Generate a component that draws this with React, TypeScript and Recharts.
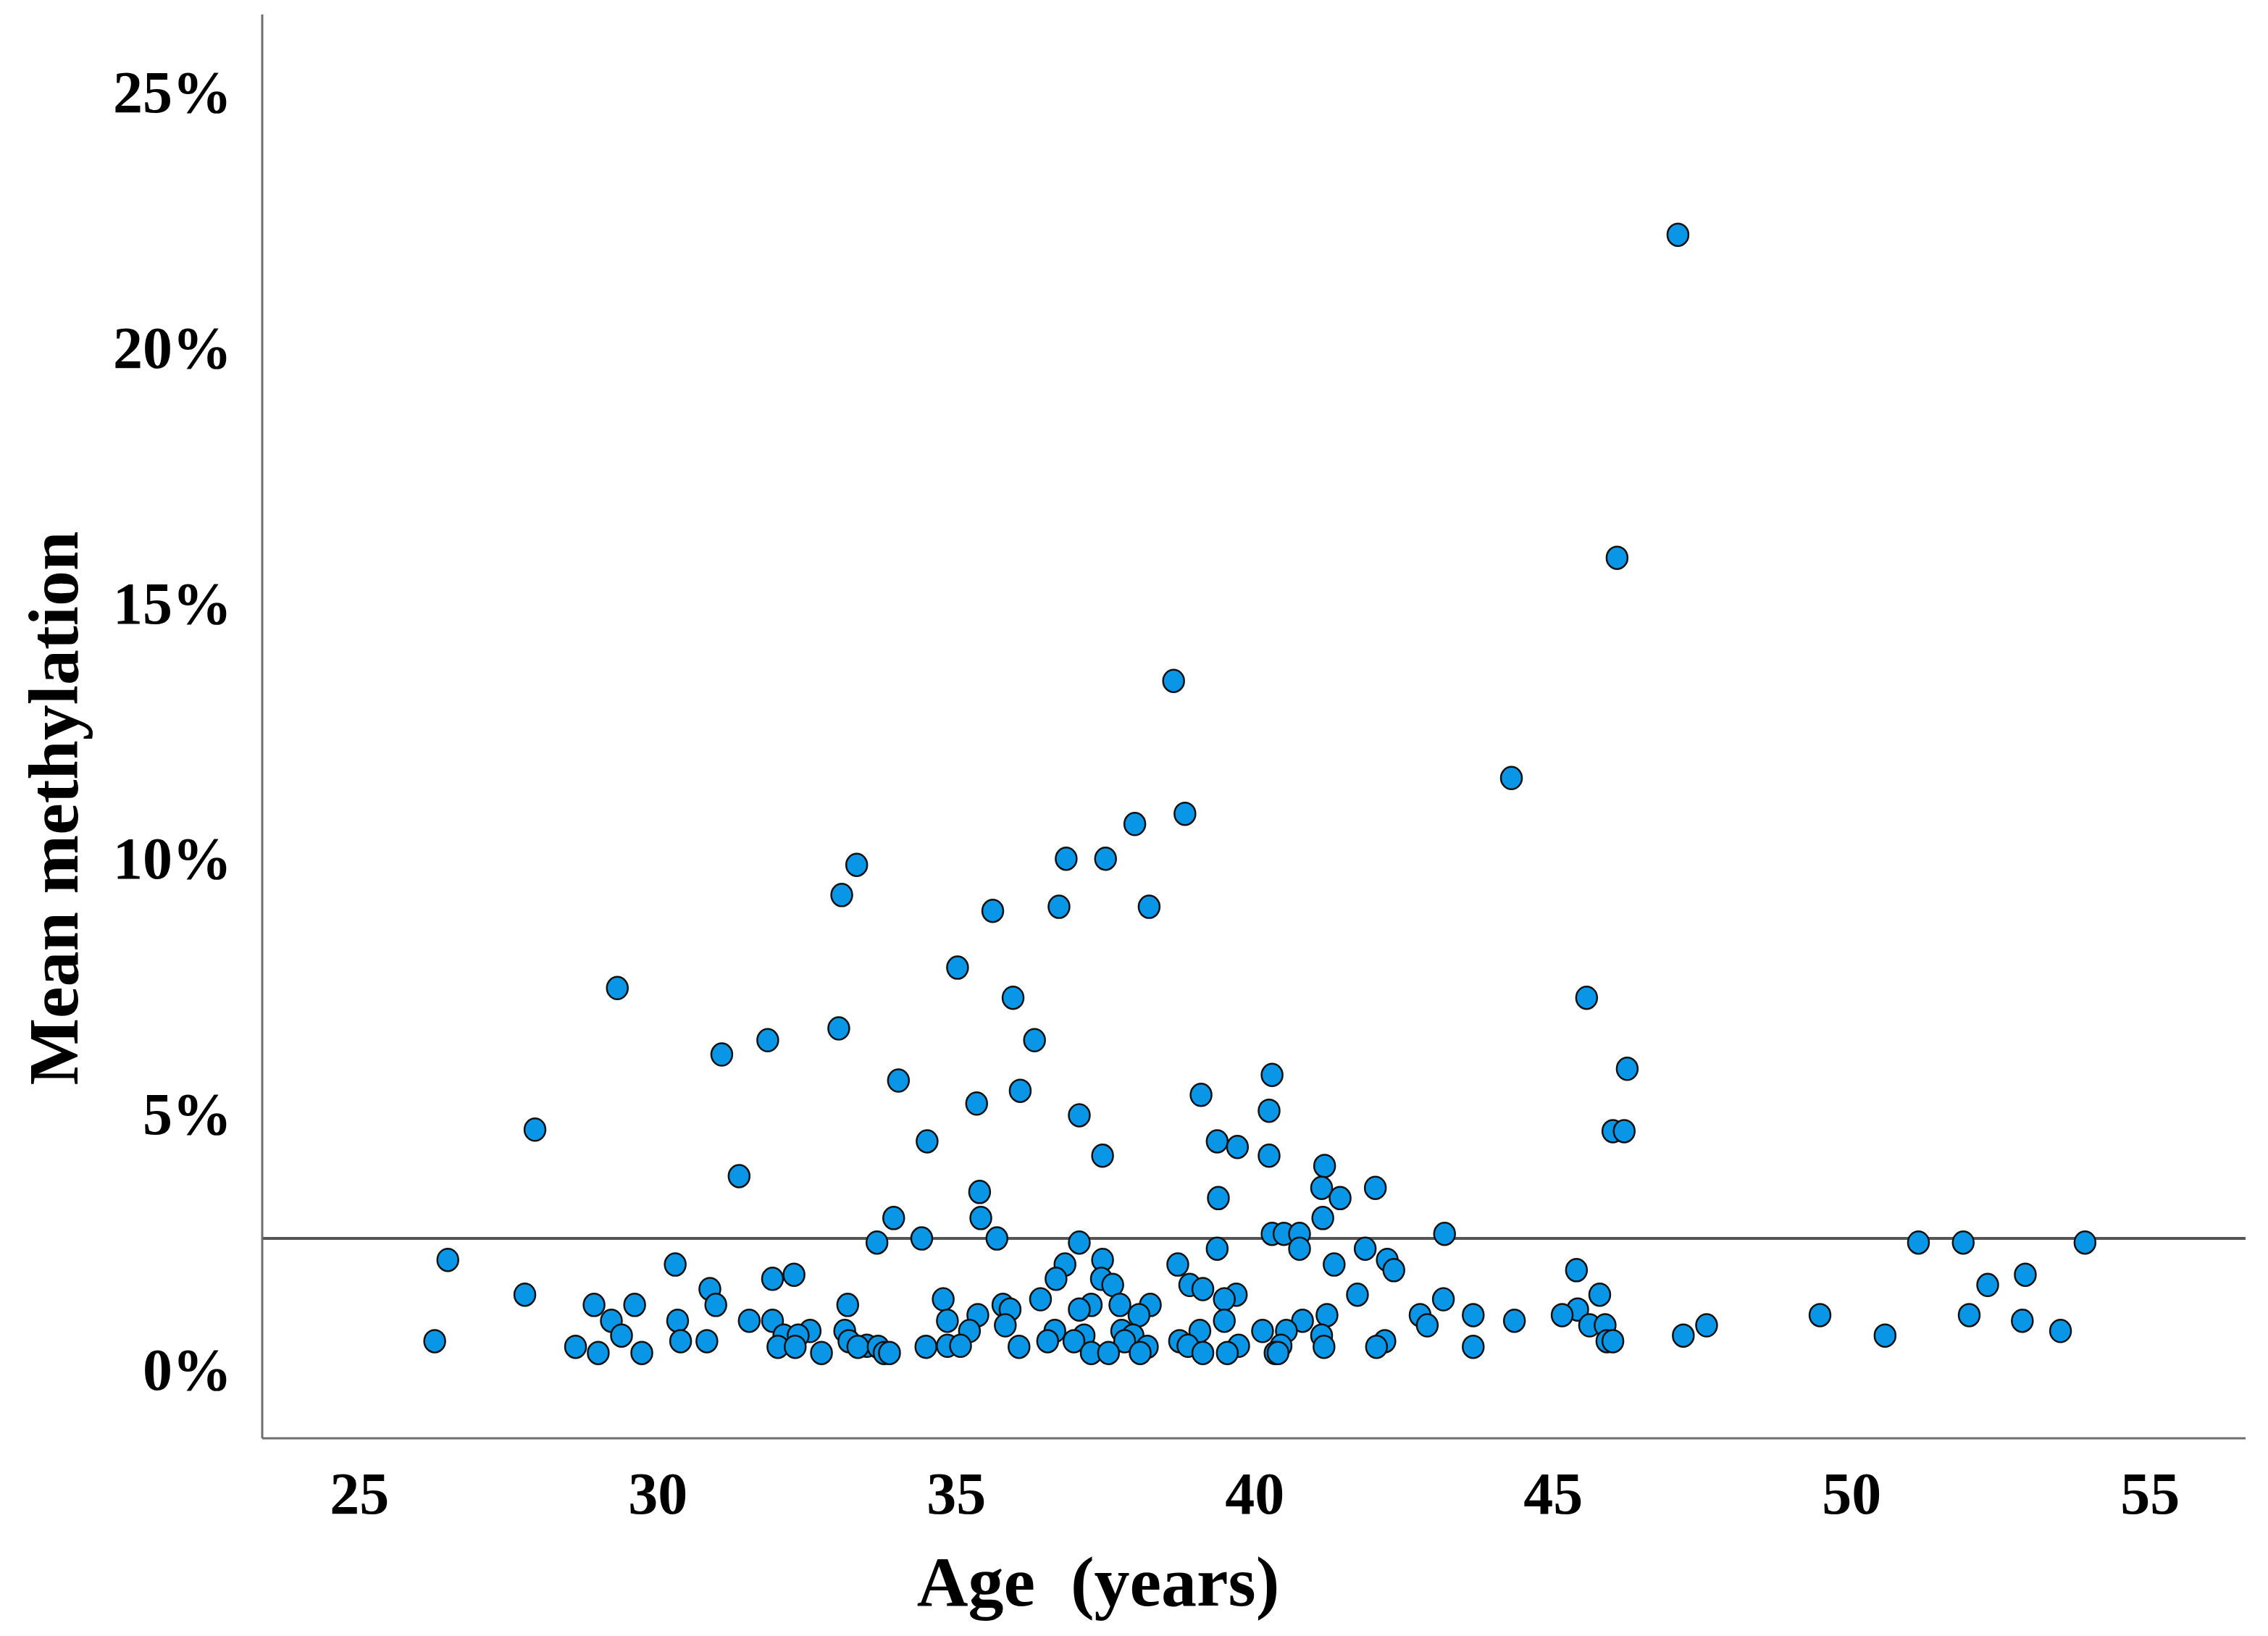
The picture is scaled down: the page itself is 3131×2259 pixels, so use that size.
import React from 'react'
import { ScatterChart, Scatter, XAxis, YAxis, ReferenceLine } from 'recharts'

// age (years) and mean methylation (%) for each sample, same order
const ages = [
  47.09, 46.07, 38.64, 44.3, 38.83, 37.99, 33.33, 36.84, 37.5, 33.08,
  35.61, 36.72, 38.23, 29.32, 35.02, 35.95, 45.56, 33.03, 31.84, 36.31,
  31.07, 46.24, 34.03, 40.29, 36.07, 39.1, 35.34, 40.24, 37.06, 27.94,
  46.0, 46.19, 34.51, 39.37, 39.71, 37.45, 40.24, 41.17, 31.36, 41.12,
  42.02, 35.39, 41.43, 39.39, 33.95, 35.41, 41.14, 40.29, 40.49, 40.75,
  43.18, 34.42, 35.68, 33.67, 37.06, 40.75, 39.37, 41.85, 51.12, 51.87,
  53.91, 26.48, 37.45, 42.22, 30.29, 38.71, 41.33, 36.82, 42.33, 45.39,
  32.28, 31.92, 52.91, 36.67, 37.43, 37.62, 38.91, 30.87, 39.13, 52.28,
  27.77, 41.72, 45.78, 39.69, 39.49, 34.78, 36.41, 43.16, 28.93, 29.61,
  30.97, 33.18, 35.78, 37.26, 37.74, 37.06, 35.9, 38.25, 45.41, 35.36,
  42.77, 43.66, 45.15, 49.47, 51.97, 41.21, 38.06, 29.22, 30.33, 31.53,
  34.85, 40.8, 44.35, 45.61, 45.87, 47.57, 52.86, 31.92, 39.49, 42.89,
  35.82, 53.5, 40.13, 33.13, 36.65, 37.77, 39.08, 40.53, 32.55, 35.22,
  29.39, 47.18, 50.56, 32.11, 32.35, 37.14, 37.96, 41.12, 26.26, 30.38,
  30.82, 33.2, 36.53, 36.97, 37.82, 38.74, 42.18, 45.9, 46.0, 33.5,
  34.85, 35.07, 38.88, 39.73, 40.44, 28.62, 32.01, 32.3, 33.35, 33.69,
  34.49, 36.05, 38.2, 41.16, 42.04, 43.66, 29.0, 29.73, 32.74, 33.79,
  33.88, 37.26, 37.55, 38.08, 39.13, 39.54, 40.34, 40.39,
]

const methylation = [
  22.19, 15.87, 13.46, 11.56, 10.86, 10.66, 9.86, 9.98, 9.98, 9.27,
  8.96, 9.04, 9.04, 7.45, 7.85, 7.26, 7.26, 6.66, 6.43, 6.43,
  6.15, 5.87, 5.64, 5.75, 5.44, 5.36, 5.19, 5.05, 4.96, 4.68,
  4.65, 4.65, 4.45, 4.45, 4.34, 4.17, 4.17, 3.97, 3.77, 3.54,
  3.54, 3.46, 3.34, 3.34, 2.95, 2.95, 2.95, 2.64, 2.64, 2.64,
  2.64, 2.55, 2.55, 2.47, 2.47, 2.35, 2.35, 2.35, 2.47, 2.47,
  2.47, 2.13, 2.13, 2.13, 2.04, 2.04, 2.04, 2.04, 1.93, 1.93,
  1.84, 1.76, 1.84, 1.76, 1.76, 1.64, 1.64, 1.56, 1.56, 1.64,
  1.45, 1.45, 1.45, 1.45, 1.36, 1.36, 1.36, 1.36, 1.25, 1.25,
  1.25, 1.25, 1.25, 1.25, 1.25, 1.16, 1.16, 1.25, 1.16, 1.05,
  1.05, 1.05, 1.05, 1.05, 1.05, 1.05, 1.05, 0.94, 0.94, 0.94,
  0.94, 0.94, 0.94, 0.85, 0.85, 0.85, 0.94, 0.94, 0.94, 0.85,
  0.85, 0.74, 0.74, 0.74, 0.74, 0.74, 0.74, 0.74, 0.74, 0.74,
  0.65, 0.65, 0.65, 0.65, 0.65, 0.65, 0.65, 0.65, 0.54, 0.54,
  0.54, 0.54, 0.54, 0.54, 0.54, 0.54, 0.54, 0.54, 0.54, 0.45,
  0.45, 0.45, 0.45, 0.45, 0.45, 0.43, 0.43, 0.43, 0.43, 0.43,
  0.43, 0.43, 0.43, 0.43, 0.43, 0.43, 0.31, 0.31, 0.31, 0.31,
  0.31, 0.31, 0.31, 0.31, 0.31, 0.31, 0.31, 0.31,
]

const ageTicks = [25, 30, 35, 40, 45, 50, 55]
const methTicks = [0, 5, 10, 15, 20, 25]
const meanMethylation = 2.55

const points = ages.map((age, i) => ({ age, value: methylation[i] }))

const font = 'Liberation Serif, Times New Roman, serif'
const tickStyle = { fontFamily: font, fontWeight: 700, fontSize: 82, fill: '#000' }
const titleStyle = { fontFamily: font, fontWeight: 700, fontSize: 98, fill: '#000' }

const Dot = (props: any) => (
  <ellipse cx={props.cx} cy={props.cy} rx={14.5} ry={15.5} fill='#0a96e6' stroke='#111' strokeWidth={2.5} />
)

const YTitle = ({ viewBox }: any) => {
  const x = viewBox.x + 74
  const y = viewBox.y + viewBox.height / 2 + 113
  return (
    <text x={x} y={y} transform={`rotate(-90 ${x} ${y})`} textAnchor='middle' dominantBaseline='central' style={titleStyle}>
      Mean methylation
    </text>
  )
}

const XTitle = ({ viewBox }: any) => {
  const x = viewBox.x + viewBox.width / 2 - 215
  const y = viewBox.y + 198
  return (
    <text x={x} y={y} textAnchor='middle' dominantBaseline='central' style={titleStyle}>
      {'Age \u00a0(years)'}
    </text>
  )
}

const App = () => {
  return (
    <div style={{ position: 'absolute', left: 0, top: 0, background: '#fff' }}>
      <ScatterChart width={3131} height={2259} margin={{ top: 20, right: 31, left: 0, bottom: 123 }}>
        <XAxis
          type='number'
          dataKey='age'
          domain={[23.37, 56.6]}
          ticks={ageTicks}
          allowDataOverflow
          height={150}
          tickLine={false}
          tickSize={0}
          tickMargin={46}
          tick={tickStyle}
          axisLine={{ stroke: '#6e6e6e', strokeWidth: 3 }}
          label={{ content: XTitle }}
        />
        <YAxis
          type='number'
          dataKey='value'
          domain={[-1.36, 26.5]}
          ticks={methTicks}
          allowDataOverflow
          width={362}
          tickLine={false}
          tickSize={0}
          tickMargin={42}
          tick={tickStyle}
          tickFormatter={(v) => `${v}%`}
          axisLine={{ stroke: '#6e6e6e', strokeWidth: 3 }}
          label={{ content: YTitle }}
        />
        <Scatter data={points} shape={Dot} isAnimationActive={false} />
        <ReferenceLine y={meanMethylation} stroke='#555' strokeWidth={4} />
      </ScatterChart>
    </div>
  )
}

export default App
